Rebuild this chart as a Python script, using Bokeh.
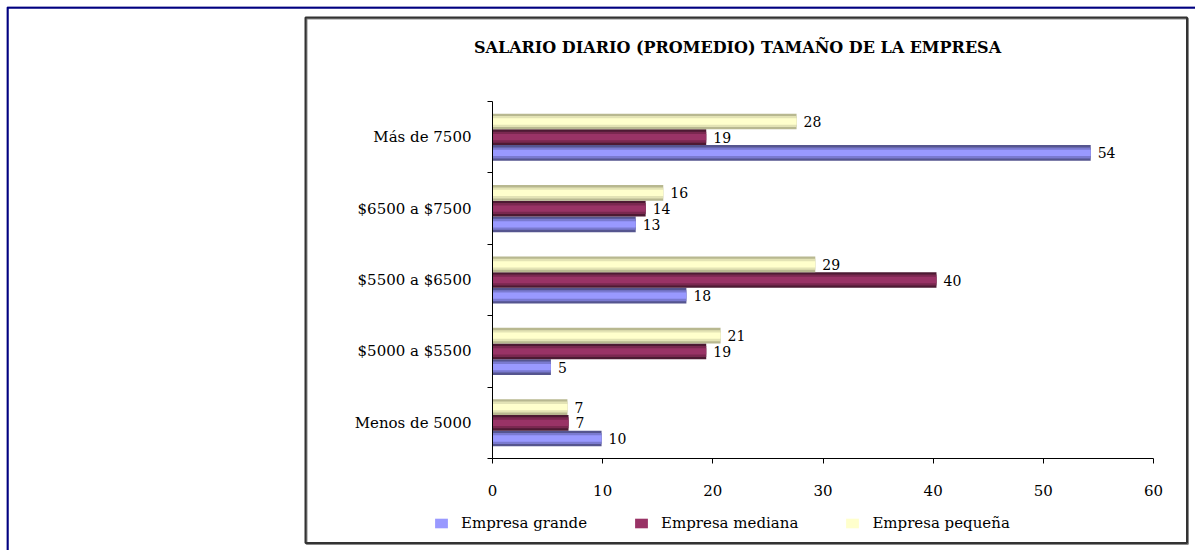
import numpy as np
from bokeh.plotting import figure
from bokeh.models import (ColumnDataSource, Range1d, FixedTicker, LabelSet, Label,
                          BoxAnnotation, Legend, LegendItem)
from bokeh.embed import file_html
from bokeh.resources import INLINE
from bokeh.core.properties import value

# ---- data (bottom to top, as in the chart) ----
categories = ["Menos de 5000", "$5000 a $5500", "$5500 a $6500", "$6500 a $7500", "Más de 7500"]
grande = [9.9, 5.3, 17.6, 13.0, 54.3]
mediana = [6.9, 19.4, 40.3, 13.9, 19.4]
pequena = [6.8, 20.7, 29.3, 15.5, 27.6]
series_names = ["Empresa grande", "Empresa mediana", "Empresa pequeña"]
x_ticks = [0, 10, 20, 30, 40, 50, 60]
title_text = "SALARIO DIARIO (PROMEDIO) TAMAÑO DE LA EMPRESA"

# ---- layout (pixels) ----
FONT = "DejaVu Serif"
W, H = 1195, 550
FRAME_L, FRAME_T = 6, 6          # plotting frame starts here (outer border)
AX_X0, AX_X1 = 492, 1153         # pixel of x=0 and x=60
AX_Y0, AX_Y1 = 458, 101          # pixel of bottom and top of the category axis
n = len(categories)
xmin, xmax = x_ticks[0], x_ticks[-1]

xs = (AX_X1 - AX_X0) / (xmax - xmin)
ys = (AX_Y0 - AX_Y1) / n
x_range = Range1d(xmin - (AX_X0 - FRAME_L) / xs, xmax + (W - AX_X1) / xs)
y_range = Range1d(0 - (H - AX_Y0) / ys, n + (AX_Y1 - FRAME_T) / ys)

p = figure(width=W, height=H, output_backend="svg", toolbar_location=None,
           x_range=x_range, y_range=y_range,
           min_border_left=FRAME_L, min_border_top=FRAME_T,
           min_border_right=0, min_border_bottom=0)
p.outline_line_color = None
p.xgrid.visible = False
p.ygrid.visible = False
p.background_fill_color = "white"
p.border_fill_color = "white"

# x axis (fixed inside the frame)
xa = p.xaxis[0]
xa.fixed_location = 0
xa.bounds = (xmin, xmax)
xa.ticker = FixedTicker(ticks=x_ticks, minor_ticks=[])
xa.major_tick_in = 0
xa.major_tick_out = 5
xa.major_label_standoff = 21
xa.axis_line_color = "black"
xa.major_tick_line_color = "black"
xa.major_label_text_font = FONT
xa.major_label_text_font_size = "15px"
xa.major_label_text_color = "black"

# y axis: labels at category centres, ticks at category boundaries
ya = p.yaxis[0]
ya.fixed_location = 0
ya.bounds = (0, n)
ya.ticker = FixedTicker(ticks=[i + 0.5 for i in range(n)], minor_ticks=list(range(n + 1)))
ya.major_label_overrides = {i + 0.5: c for i, c in enumerate(categories)}
ya.major_tick_line_color = None
ya.major_tick_in = 0
ya.major_tick_out = 0
ya.minor_tick_in = 0
ya.minor_tick_out = 5
ya.minor_tick_line_color = "black"
ya.axis_line_color = "black"
ya.major_label_standoff = 16
ya.major_label_text_font = FONT
ya.major_label_text_font_size = "15px"
ya.major_label_text_color = "black"

# decorative frames (outer navy border, inner chart area box with shadow)
def box(l, t, r, b, color, lw):
    return BoxAnnotation(left=l - FRAME_L, right=r - FRAME_L, top=H - t, bottom=H - b,
                         left_units="screen", right_units="screen",
                         top_units="screen", bottom_units="screen",
                         fill_color=None, fill_alpha=0, line_color=color, line_alpha=1.0,
                         line_width=lw, level="underlay")

p.add_layout(box(7, 7, 1400, 800, "#000080", 2.5))
p.add_layout(box(306, 18, 1187.5, 543.5, "#8a8a8a", 2))
p.add_layout(box(305, 17, 1186.5, 542.5, "#333333", 2))

bar_h = 0.22
series = [
    (grande, -bar_h, ["#55558f", "#7a7ad0", "#9999ff"]),
    (mediana, 0.0, ["#4d1a33", "#7a2850", "#993366"]),
    (pequena, bar_h, ["#b8b890", "#e3e3b5", "#ffffcc"]),
]
layers = [1.0, 0.7, 0.4]

legend_renderers = []
ycent = np.arange(n) + 0.5
for vals, off, cols in series:
    src = ColumnDataSource(dict(y=ycent + off, v=vals,
                                lbl=[f"{v:.0f}" for v in vals]))
    main = None
    for frac, col in zip(layers, cols):
        r = p.hbar(y="y", left=0, right="v", height=bar_h * frac, source=src,
                   fill_color=col, line_color=None)
        main = r
    legend_renderers.append(main)
    p.add_layout(LabelSet(x="v", y="y", text="lbl", source=src, x_offset=7,
                          text_baseline="middle", text_align="left",
                          text_font=value(FONT), text_font_size=value("14px"),
                          text_color="black"))

# title
p.add_layout(Label(x=737 - FRAME_L, y=H - 47, x_units="screen", y_units="screen",
                   text=title_text, text_align="center", text_baseline="middle",
                   text_font=FONT, text_font_style="bold", text_font_size="16px",
                   text_color="black"))

# legend
legend = Legend(items=[LegendItem(label=nm, renderers=[r]) for nm, r in zip(series_names, legend_renderers)],
                location=(433 - FRAME_L, H - 532), orientation="horizontal",
                glyph_width=16, glyph_height=12, label_standoff=12, spacing=46,
                padding=0, margin=0, border_line_color=None, background_fill_alpha=0,
                label_text_font=FONT, label_text_font_size="15px", label_text_color="black")
p.add_layout(legend)

open("out.html", "w").write(file_html(p, INLINE))
